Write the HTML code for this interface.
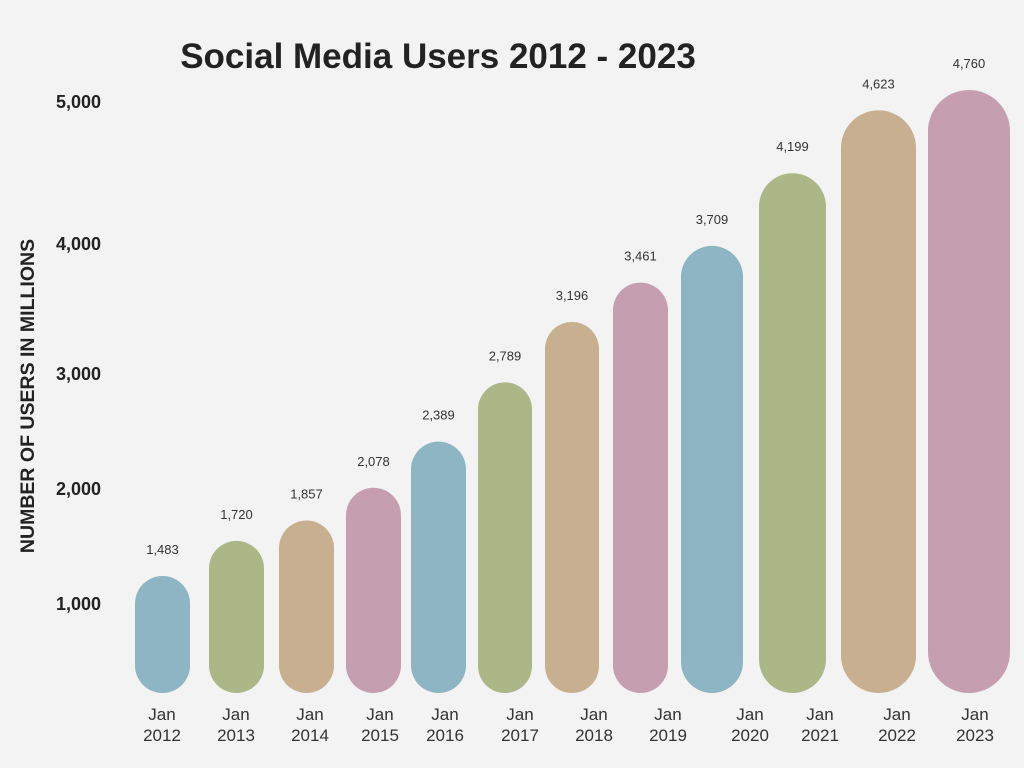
<!DOCTYPE html>
<html><head><meta charset="utf-8"><style>
html,body{margin:0;padding:0;background:#f3f3f3;}
#c{position:relative;width:1024px;height:768px;overflow:hidden;font-family:"Liberation Sans","DejaVu Sans",sans-serif;color:#222;}
</style></head><body>
<div id="c">
<svg id="s" width="1024" height="768" xmlns="http://www.w3.org/2000/svg">
<text x="438" y="68" text-anchor="middle" font-size="35" font-weight="bold" fill="#222" font-family="Liberation Sans, sans-serif">Social Media Users 2012 - 2023</text>
<text transform="translate(34,396) rotate(-90)" text-anchor="middle" font-size="19.5" font-weight="bold" fill="#222" font-family="Liberation Sans, sans-serif">NUMBER OF USERS IN MILLIONS</text>
<g id="yt"></g><g id="bars"></g>
</svg>
</div>
<script>
const categories=["2012","2013","2014","2015","2016","2017","2018","2019","2020","2021","2022","2023"];
const values=[1483,1720,1857,2078,2389,2789,3196,3461,3709,4199,4623,4760];
const valueLabels=["1,483","1,720","1,857","2,078","2,389","2,789","3,196","3,461","3,709","4,199","4,623","4,760"];
const yTicks=[1000,2000,3000,4000,5000];
const yTickLabels=["1,000","2,000","3,000","4,000","5,000"];
const barLeft=[135,209,279,346,411,478,545,613,681,759,841,928];
const barRight=[190,264,334,401,466,532,599,668,743,826,916,1010];
const labelX=[162,236,310,380,445,520,594,668,750,820,897,975];
const colors=["#8db5c4","#abb787","#c7af8f","#c59fb0"];
const ns="http://www.w3.org/2000/svg";
const s=document.getElementById('s');
function y(v){return 576-(v-1483)*0.1483;}
const tickY=[603,488,373,243,101];
function yTickPos(i){return tickY[i];}
const yt=document.getElementById('yt');
yTicks.forEach((t,i)=>{
 const e=document.createElementNS(ns,'text');
 e.setAttribute('x',101);e.setAttribute('y',yTickPos(i)+7);
 e.setAttribute('text-anchor','end');e.setAttribute('font-size','18');e.setAttribute('font-weight','bold');e.setAttribute('fill','#222');
 
 
 e.textContent=yTickLabels[i];yt.appendChild(e);
});
const g=document.getElementById('bars');
const bottom=693;
values.forEach((v,i)=>{
 const x0=barLeft[i],w=barRight[i]-barLeft[i],top=y(v);
 const r=document.createElementNS(ns,'rect');
 r.setAttribute('x',x0);r.setAttribute('y',top);r.setAttribute('width',w);r.setAttribute('height',bottom-top);
 r.setAttribute('rx',w/2);r.setAttribute('ry',w/2);r.setAttribute('fill',colors[i%4]);
 
 
 g.appendChild(r);
 const t=document.createElementNS(ns,'text');
 t.setAttribute('x',x0+w/2);t.setAttribute('y',top-22);t.setAttribute('text-anchor','middle');t.setAttribute('font-size','13');t.setAttribute('fill','#333');
 
 
 t.textContent=valueLabels[i];g.appendChild(t);
 ['Jan',categories[i]].forEach((txt,k)=>{
  const l=document.createElementNS(ns,'text');
  l.setAttribute('x',labelX[i]);l.setAttribute('y',720+k*21);l.setAttribute('text-anchor','middle');l.setAttribute('font-size','17');l.setAttribute('fill','#333');
  
  
  l.textContent=txt;g.appendChild(l);
 });
});
</script>
</body></html>
